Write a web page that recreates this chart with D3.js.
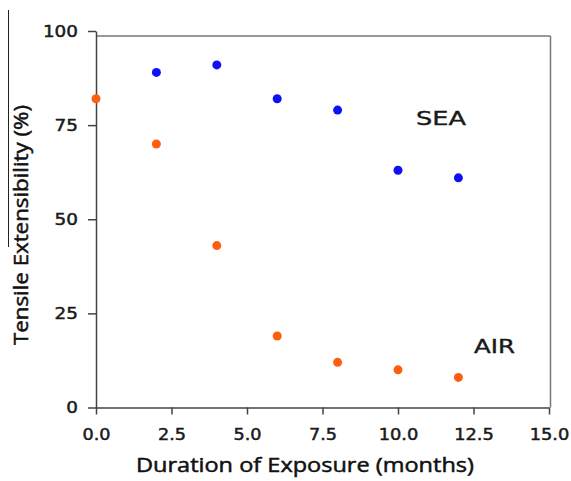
<!DOCTYPE html>
<html lang="en">
<head>
<meta charset="UTF-8">
<title>Tensile Extensibility</title>
<script src="https://d3js.org/d3.v7.min.js"></script>
<style>
  body { margin: 0; background: #fff; }
  .tick text { font-family: "DejaVu Sans", sans-serif; font-size: 16.5px; fill: #1a1a1a; stroke: #1a1a1a; stroke-width: 0.5; }
  .tick line, .domain { stroke: #444; stroke-width: 1.5; }
</style>
</head>
<body>
<div id="chart"></div>
<script>
// tensile extensibility (%) against months of exposure
const seaMonths = [2, 4, 6, 8, 10, 12]
const seaValues = [89, 91, 82, 79, 63, 61]
const airMonths = [0, 2, 4, 6, 8, 10, 12]
const airValues = [82, 70, 43, 19, 12, 10, 8]
const xTicks = [0, 2.5, 5, 7.5, 10, 12.5, 15]
const yTicks = [0, 25, 50, 75, 100]

const w = 571, h = 481
const svg = d3.select("#chart").append("svg").attr("width", w).attr("height", h)

const xScale = d3.scaleLinear().domain([0, 15]).range([96, 549])
const yScale = d3.scaleLinear().domain([0, 100]).range([407.5, 31])

// the original text is a bit wider than the fonts here
const tickWidth = s => s.replace(/\./g, "").length * 11.7 + (s.includes(".") ? 4.6 : 0)

// frame (top + right)
svg.append("line")
   .attr("x1", xScale(0)).attr("x2", 550.5)
   .attr("y1", 36).attr("y2", 36)
   .attr("stroke", "#777").attr("stroke-width", 1.5)
svg.append("line")
   .attr("x1", 550.5).attr("x2", 550.5)
   .attr("y1", 36).attr("y2", yScale(0))
   .attr("stroke", "#777").attr("stroke-width", 1.5)

// stray line on the left edge of the original
svg.append("line")
   .attr("x1", 8.5).attr("x2", 8.5).attr("y1", 10).attr("y2", 247)
   .attr("stroke", "#222").attr("stroke-width", 1)

const xAxis = d3.axisBottom(xScale).tickValues(xTicks).tickFormat(d3.format(".1f"))
                .tickSizeInner(7).tickSizeOuter(0).tickPadding(14)
svg.append("g").attr("transform", "translate(0," + yScale(0) + ")").call(xAxis)
   .selectAll("text")
   .attr("textLength", function() { return tickWidth(this.textContent) })
   .attr("lengthAdjust", "spacingAndGlyphs")

const yAxis = d3.axisLeft(yScale).tickValues(yTicks)
                .tickSizeInner(8).tickSizeOuter(0).tickPadding(10)
svg.append("g").attr("transform", "translate(" + xScale(0) + ",0)").call(yAxis)
   .selectAll("text")
   .attr("textLength", function() { return tickWidth(this.textContent) })
   .attr("lengthAdjust", "spacingAndGlyphs")

svg.selectAll(".sea").data(seaMonths).enter().append("circle")
   .attr("class", "sea")
   .attr("cx", d => xScale(d))
   .attr("cy", (d, i) => yScale(seaValues[i]))
   .attr("r", 4.5)
   .attr("fill", "#1010f5")

svg.selectAll(".air").data(airMonths).enter().append("circle")
   .attr("class", "air")
   .attr("cx", d => xScale(d))
   .attr("cy", (d, i) => yScale(airValues[i]))
   .attr("r", 4.5)
   .attr("fill", "#ff5e0e")

svg.append("text").attr("x", 416).attr("y", 125)
   .style("font-family", "DejaVu Sans, sans-serif").style("font-size", "20px")
   .style("fill", "#1a1a1a").style("stroke", "#1a1a1a").style("stroke-width", 0.4)
   .attr("textLength", 50).attr("lengthAdjust", "spacingAndGlyphs")
   .text("SEA")
svg.append("text").attr("x", 474).attr("y", 353)
   .style("font-family", "DejaVu Sans, sans-serif").style("font-size", "19px")
   .style("fill", "#1a1a1a").style("stroke", "#1a1a1a").style("stroke-width", 0.4)
   .attr("textLength", 41).attr("lengthAdjust", "spacingAndGlyphs")
   .text("AIR")

svg.append("text").attr("x", 305).attr("y", 472)
   .attr("text-anchor", "middle")
   .style("font-family", "Open Sans, sans-serif").style("font-size", "20px")
   .style("fill", "#111").style("stroke", "#111").style("stroke-width", 0.5)
   .attr("textLength", 338).attr("lengthAdjust", "spacingAndGlyphs")
   .text("Duration of Exposure (months)")

svg.append("text")
   .attr("transform", "translate(28,225) rotate(-90)")
   .attr("text-anchor", "middle")
   .style("font-family", "Open Sans, sans-serif").style("font-size", "20px")
   .style("fill", "#111").style("stroke", "#111").style("stroke-width", 0.5)
   .attr("textLength", 240).attr("lengthAdjust", "spacingAndGlyphs")
   .text("Tensile Extensibility (%)")
</script>
</body>
</html>
